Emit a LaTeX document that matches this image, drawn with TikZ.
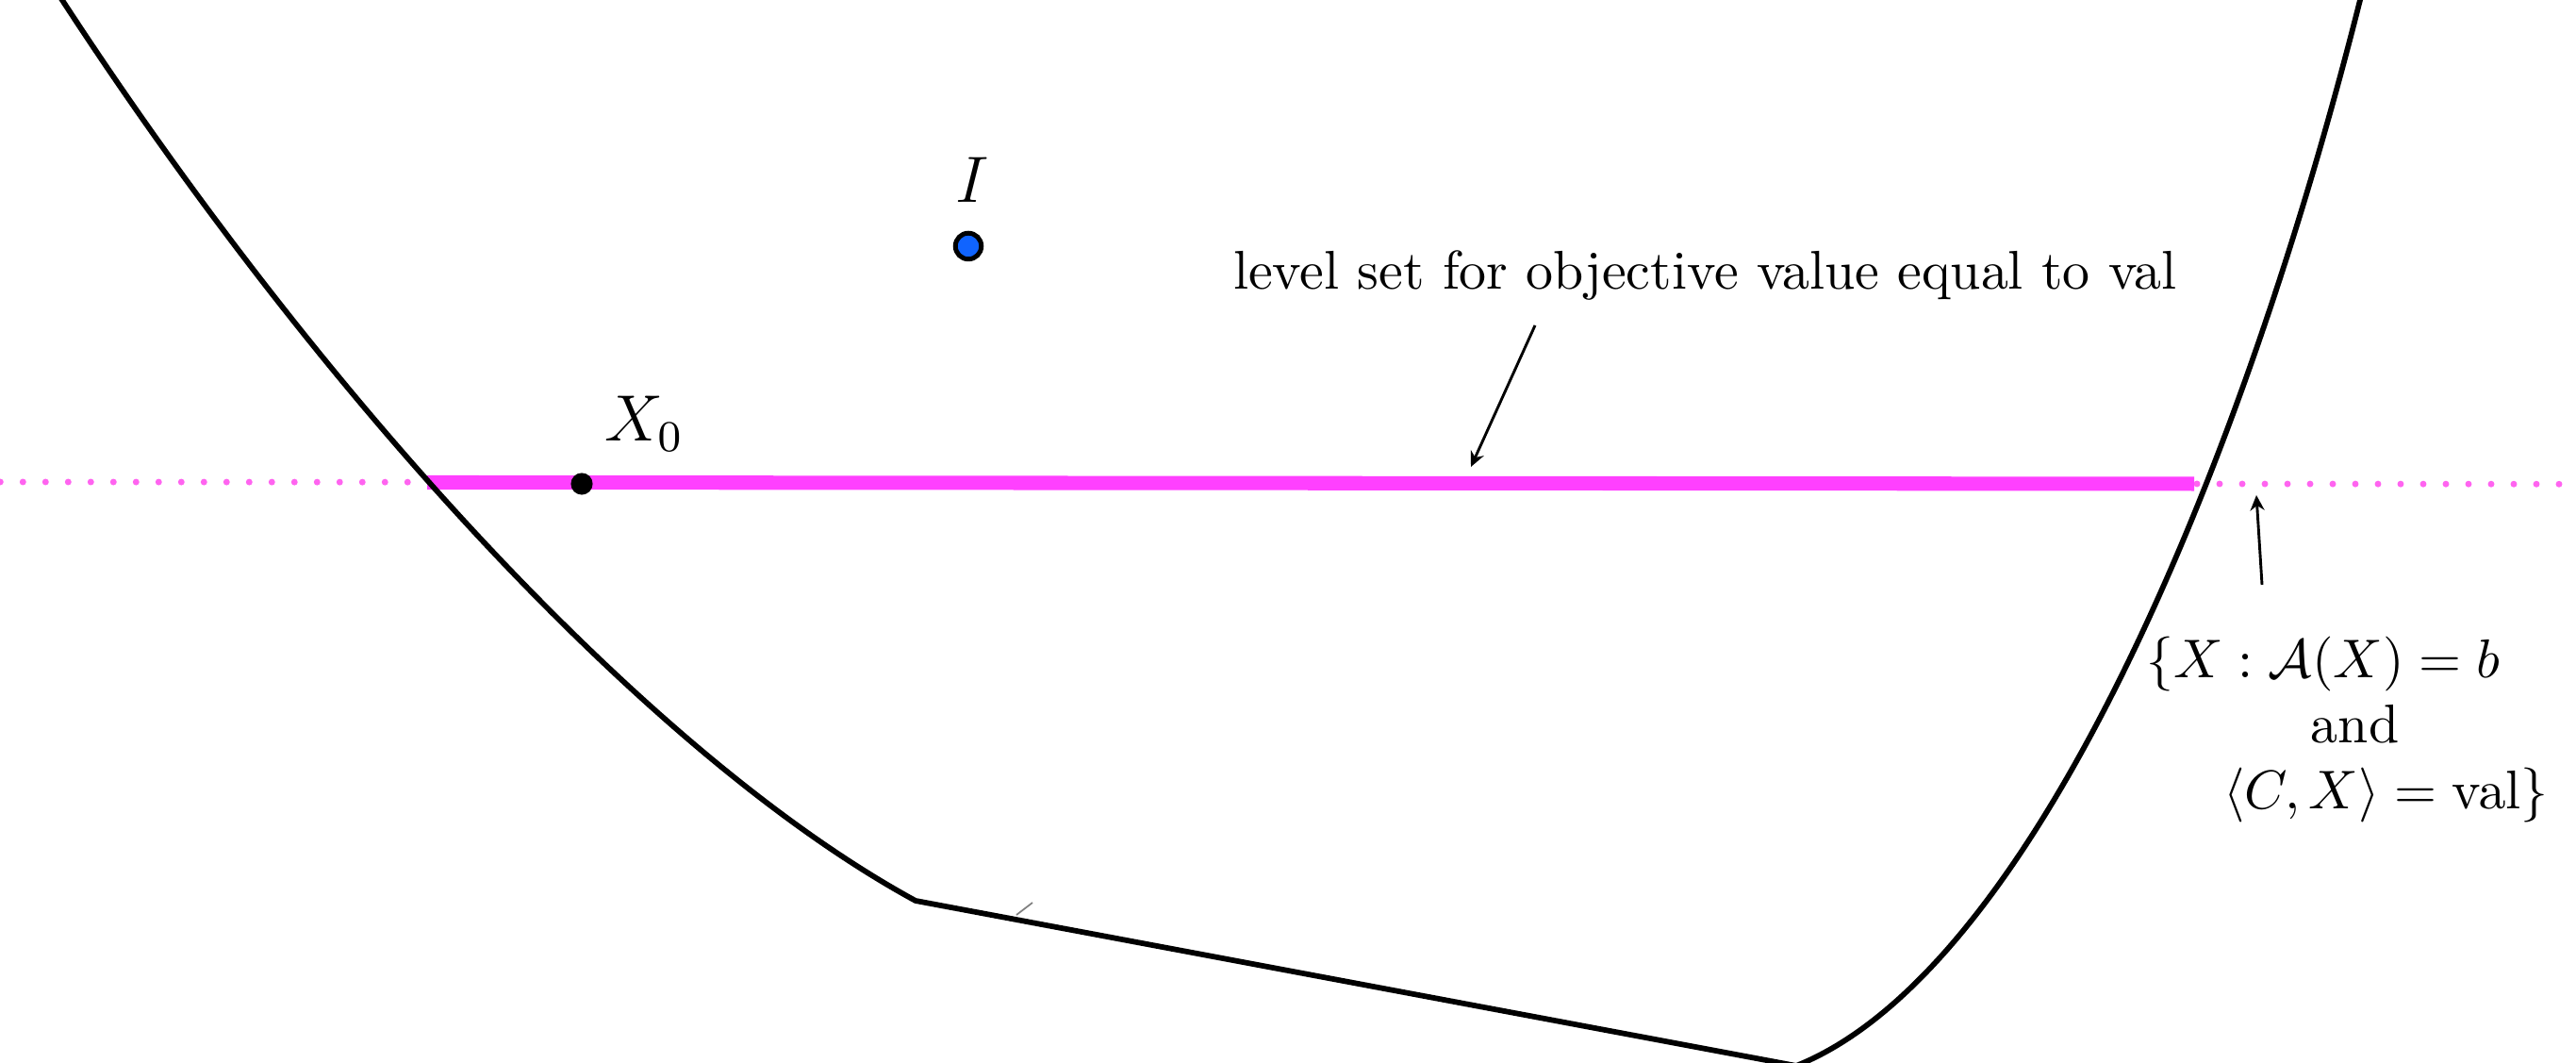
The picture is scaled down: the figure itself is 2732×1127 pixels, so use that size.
\documentclass[tikz,border=0pt]{standalone}
\usetikzlibrary{arrows.meta}
\definecolor{mag}{RGB}{255,64,255}
\definecolor{magdot}{RGB}{255,100,240}
\definecolor{iblue}{RGB}{16,100,255}
\begin{document}
\begin{tikzpicture}[x=0.1728pt,y=-0.1728pt,
  boundary/.style={line width=1pt, line join=round},
  levelline/.style={line width=2.6pt, draw=mag},
  dotline/.style={draw=magdot, line width=1.2pt, line cap=round, dash pattern=on 0pt off 4.147pt},
  pointer/.style={line width=0.5pt, -{Stealth[length=2.8pt,width=2.6pt]}},
  lbl/.style={inner sep=0pt, font=\large}]
\useasboundingbox (0,0) rectangle (2732,1127);
% dotted level line
\draw[dotline] (0.3,511) -- (440,511.2);
\draw[dotline] (2330,513) -- (2730,513.3);
% thick level set
\draw[levelline] (453,511.5) -- (2327,513);
% boundary of the feasible set
\draw[boundary] (62,-6) .. controls (339,420) and (690,802) .. (971,955)
  -- (1905,1130) .. controls (2155,1030) and (2378,500) .. (2505,-8);
\draw[gray, line width=0.3pt] (1078,970) -- (1095,957);
% points
\node[circle, draw=black, line width=0.86pt, fill=iblue, inner sep=0pt, minimum size=4.76pt] (I) at (1027,261) {};
\node[lbl, anchor=base] (Ilabel) at (1031,215) {$I$};
\node[circle, fill=black, inner sep=0pt, minimum size=4pt] (X0) at (617,513) {};
\node[lbl, anchor=base west] (X0label) at (640,468) {$X_0$};
% labels
\node[inner sep=0pt, anchor=base west] (lvl) at (1307,307) {level set for objective value equal to val};
\node[inner sep=0pt, anchor=north west, align=left] (set) at (2275,674)
  {$\{X:\mathcal{A}(X)=b$\\\hspace*{30.2pt}and\\\hspace*{14.2pt}$\langle C,X\rangle=\mathrm{val}\}$};
% pointers
\coordinate (a1s) at (1628,345);
\coordinate (a1e) at (1560,495);
\coordinate (a2s) at (2399,620);
\coordinate (a2e) at (2393,525);
\draw[pointer] (a1s) -- (a1e);
\draw[pointer] (a2s) -- (a2e);
\end{tikzpicture}
\end{document}
